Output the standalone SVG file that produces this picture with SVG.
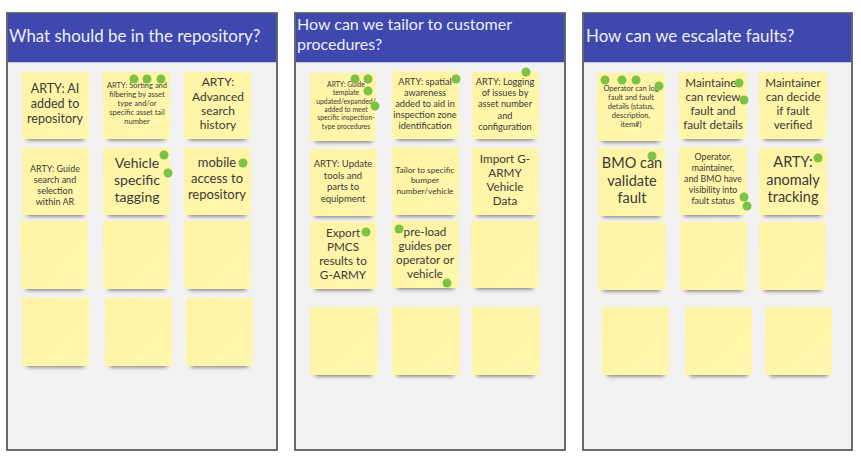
<svg xmlns="http://www.w3.org/2000/svg" width="861" height="457" viewBox="0 0 861 457">
<style>
.frame{fill:#f2f2f2;stroke:#3c3c3c;stroke-width:1.5}
.hdr{fill:#3f49ad}
.htxt{font-family:Lato,"Open Sans",sans-serif;font-size:16.9px;fill:#eceef8}
.h2{font-size:16px}
.note{fill:url(#ng)}
.sh{fill:#000;opacity:.55;filter:url(#blur)}
.t{font-family:Lato,"Open Sans",sans-serif;fill:#3a3a3a;text-anchor:middle}
.dot{fill:#7dc243}
</style>
<defs>
<linearGradient id="ng" x1="0" y1="0" x2="1" y2="1">
<stop offset="0" stop-color="#fff3a4"/>
<stop offset="1" stop-color="#fff7ad"/>
</linearGradient>
<filter id="blur" x="-20%" y="-100%" width="140%" height="300%"><feGaussianBlur stdDeviation="2"/></filter>
</defs>
<rect width="861" height="457" fill="#fff"/>

<g id="col1">
<rect class="frame" x="7" y="13" width="270" height="437"/>
<rect class="hdr" x="7.75" y="13.75" width="268.5" height="48.5"/>
<text class="htxt" x="9" y="42">What should be in the repository?</text>
</g>
<g id="col2">
<rect class="frame" x="295" y="13" width="270" height="437"/>
<rect class="hdr" x="295.75" y="13.75" width="268.5" height="48.5"/>
<text class="htxt h2"><tspan x="297" y="30">How can we tailor to customer</tspan><tspan x="297" y="49.5">procedures?</tspan></text>
</g>
<g id="col3">
<rect class="frame" x="583" y="13" width="269" height="437"/>
<rect class="hdr" x="583.75" y="13.75" width="267.5" height="48.5"/>
<text class="htxt" x="586" y="42">How can we escalate faults?</text>
</g>

<!-- Column 1 notes -->
<g id="n1-1"><rect class="sh" x="27" y="134" width="57" height="6"/><rect class="note" x="22" y="72" width="67" height="67"/>
<text class="t" font-size="12.5"><tspan x="55" y="93">ARTY: AI</tspan><tspan x="55" y="108">added to</tspan><tspan x="55" y="123">repository</tspan></text></g>
<g id="n1-2"><rect class="sh" x="108" y="134" width="57" height="6"/><rect class="note" x="103" y="72" width="67" height="67"/>
<text class="t" font-size="7.5"><tspan x="137" y="88">ARTY: Sorting and</tspan><tspan x="137" y="97">filbering by asset</tspan><tspan x="137" y="106">type and/or</tspan><tspan x="137" y="115">specific asset tail</tspan><tspan x="137" y="124">number</tspan></text>
<circle class="dot" cx="134" cy="79" r="4.5"/><circle class="dot" cx="147" cy="79" r="4.5"/><circle class="dot" cx="161" cy="79" r="4.5"/></g>
<g id="n1-3"><rect class="sh" x="189" y="134" width="57" height="6"/><rect class="note" x="184" y="72" width="67" height="67"/>
<text class="t" font-size="12"><tspan x="218" y="86">ARTY:</tspan><tspan x="218" y="101">Advanced</tspan><tspan x="218" y="115">search</tspan><tspan x="218" y="129">history</tspan></text></g>

<g id="n1-4"><rect class="sh" x="27" y="210" width="57" height="6"/><rect class="note" x="22" y="148" width="67" height="67"/>
<text class="t" font-size="9"><tspan x="55" y="172">ARTY: Guide</tspan><tspan x="55" y="183">search and</tspan><tspan x="55" y="194">selection</tspan><tspan x="55" y="205">within AR</tspan></text></g>
<g id="n1-5"><rect class="sh" x="108" y="210" width="57" height="6"/><rect class="note" x="103" y="148" width="67" height="67"/>
<text class="t" font-size="14"><tspan x="137" y="168">Vehicle</tspan><tspan x="137" y="185">specific</tspan><tspan x="137" y="202">tagging</tspan></text>
<circle class="dot" cx="164" cy="155" r="4.5"/><circle class="dot" cx="168" cy="173" r="4.5"/></g>
<g id="n1-6"><rect class="sh" x="189" y="210" width="57" height="6"/><rect class="note" x="184" y="148" width="67" height="67"/>
<text class="t" font-size="13"><tspan x="217" y="167">mobile</tspan><tspan x="217" y="183">access to</tspan><tspan x="217" y="199">repository</tspan></text>
<circle class="dot" cx="243" cy="163" r="4.5"/></g>

<g id="n1-7"><rect class="sh" x="26" y="284" width="57" height="6"/><rect class="note" x="21" y="221" width="67" height="68"/></g>
<g id="n1-8"><rect class="sh" x="108" y="284" width="57" height="6"/><rect class="note" x="103" y="221" width="67" height="68"/></g>
<g id="n1-9"><rect class="sh" x="189" y="284" width="57" height="6"/><rect class="note" x="184" y="221" width="67" height="68"/></g>

<g id="n1-10"><rect class="sh" x="27" y="361" width="57" height="6"/><rect class="note" x="22" y="298" width="67" height="68"/></g>
<g id="n1-11"><rect class="sh" x="110" y="361" width="57" height="6"/><rect class="note" x="105" y="298" width="67" height="68"/></g>
<g id="n1-12"><rect class="sh" x="191" y="361" width="57" height="6"/><rect class="note" x="186" y="298" width="67" height="68"/></g>

<!-- Column 2 notes -->
<g id="n2-1"><rect class="sh" x="315" y="136" width="57" height="6"/><rect class="note" x="310" y="73" width="66" height="68"/>
<text class="t" font-size="6.8"><tspan x="346" y="87">ARTY: Guide</tspan><tspan x="346" y="95.3">template</tspan><tspan x="346" y="103.6">updated/expanded/</tspan><tspan x="346" y="111.9">added to meet</tspan><tspan x="346" y="120.2">specific inspection-</tspan><tspan x="346" y="128.5">type procedures</tspan></text>
<circle class="dot" cx="355" cy="79" r="4.5"/><circle class="dot" cx="368" cy="79" r="4.5"/><circle class="dot" cx="368" cy="91" r="4.5"/><circle class="dot" cx="375" cy="106" r="4.5"/></g>
<g id="n2-2"><rect class="sh" x="397" y="134" width="57" height="6"/><rect class="note" x="392" y="71" width="67" height="68"/>
<text class="t" font-size="9.2"><tspan x="425" y="85">ARTY: spatial</tspan><tspan x="425" y="96">awareness</tspan><tspan x="425" y="107">added to aid in</tspan><tspan x="425" y="118">inspection zone</tspan><tspan x="425" y="129">identification</tspan></text>
<circle class="dot" cx="456" cy="79" r="4.5"/></g>
<g id="n2-3"><rect class="sh" x="477" y="134" width="57" height="6"/><rect class="note" x="472" y="72" width="67" height="67"/>
<text class="t" font-size="9.2"><tspan x="505" y="85">ARTY: Logging</tspan><tspan x="505" y="96">of issues by</tspan><tspan x="505" y="107">asset number</tspan><tspan x="505" y="118.5">and</tspan><tspan x="505" y="130">configuration</tspan></text>
<circle class="dot" cx="526" cy="72" r="4.5"/></g>

<g id="n2-4"><rect class="sh" x="315" y="211" width="57" height="6"/><rect class="note" x="310" y="149" width="67" height="67"/>
<text class="t" font-size="9.5"><tspan x="343" y="167">ARTY: Update</tspan><tspan x="343" y="178.5">tools and</tspan><tspan x="343" y="190">parts to</tspan><tspan x="343" y="202">equipment</tspan></text></g>
<g id="n2-5"><rect class="sh" x="397" y="210" width="57" height="6"/><rect class="note" x="392" y="147" width="67" height="68"/>
<text class="t" font-size="8.3"><tspan x="425" y="172.5">Tailor to specific</tspan><tspan x="425" y="183">bumper</tspan><tspan x="425" y="193.5">number/vehicle</tspan></text></g>
<g id="n2-6"><rect class="sh" x="477" y="210" width="57" height="6"/><rect class="note" x="472" y="148" width="67" height="67"/>
<text class="t" font-size="11.7"><tspan x="505" y="163">Import G-</tspan><tspan x="505" y="177">ARMY</tspan><tspan x="505" y="191">Vehicle</tspan><tspan x="505" y="205">Data</tspan></text></g>

<g id="n2-7"><rect class="sh" x="315" y="284" width="57" height="6"/><rect class="note" x="310" y="222" width="67" height="67"/>
<text class="t" font-size="11.7"><tspan x="343" y="237">Export</tspan><tspan x="343" y="251">PMCS</tspan><tspan x="343" y="265">results to</tspan><tspan x="343" y="279">G-ARMY</tspan></text>
<circle class="dot" cx="366" cy="232" r="4.5"/></g>
<g id="n2-8"><rect class="sh" x="397" y="283" width="57" height="6"/><rect class="note" x="392" y="221" width="67" height="67"/>
<text class="t" font-size="11.7"><tspan x="425" y="236">pre-load</tspan><tspan x="425" y="250">guides per</tspan><tspan x="425" y="264">operator or</tspan><tspan x="425" y="278">vehicle</tspan></text>
<circle class="dot" cx="399" cy="229" r="4.5"/><circle class="dot" cx="447" cy="283" r="4.5"/></g>
<g id="n2-9"><rect class="sh" x="476" y="283" width="57" height="6"/><rect class="note" x="471" y="221" width="68" height="67"/></g>

<g id="n2-10"><rect class="sh" x="315" y="370" width="57" height="6"/><rect class="note" x="310" y="307" width="68" height="68"/></g>
<g id="n2-11"><rect class="sh" x="397" y="370" width="57" height="6"/><rect class="note" x="392" y="307" width="68" height="68"/></g>
<g id="n2-12"><rect class="sh" x="477" y="370" width="57" height="6"/><rect class="note" x="472" y="307" width="68" height="68"/></g>

<!-- Column 3 notes -->
<g id="n3-1"><rect class="sh" x="602" y="136" width="57" height="6"/><rect class="note" x="597" y="73" width="68" height="68"/>
<text class="t" font-size="7.5"><tspan x="631" y="90.5">Operator can log</tspan><tspan x="631" y="99.5">fault and fault</tspan><tspan x="631" y="108.5">details (status,</tspan><tspan x="631" y="117.5">description,</tspan><tspan x="631" y="126.5">item#)</tspan></text>
<circle class="dot" cx="605" cy="80" r="4.5"/><circle class="dot" cx="622" cy="80" r="4.5"/><circle class="dot" cx="636" cy="80" r="4.5"/><circle class="dot" cx="659" cy="86" r="4.5"/></g>
<g id="n3-2"><rect class="sh" x="684" y="134" width="57" height="6"/><rect class="note" x="679" y="72" width="68" height="67"/>
<text class="t" font-size="11.7"><tspan x="713" y="87">Maintainer</tspan><tspan x="713" y="101">can review</tspan><tspan x="713" y="115">fault and</tspan><tspan x="713" y="129">fault details</tspan></text>
<circle class="dot" cx="739" cy="83" r="4.5"/><circle class="dot" cx="744" cy="100" r="4.5"/></g>
<g id="n3-3"><rect class="sh" x="764" y="134" width="57" height="6"/><rect class="note" x="759" y="72" width="68" height="67"/>
<text class="t" font-size="11.7"><tspan x="793" y="87">Maintainer</tspan><tspan x="793" y="101">can decide</tspan><tspan x="793" y="115">if fault</tspan><tspan x="793" y="129">verified</tspan></text></g>

<g id="n3-4"><rect class="sh" x="603" y="211" width="57" height="6"/><rect class="note" x="598" y="148" width="67" height="68"/>
<text class="t" font-size="14.5"><tspan x="632" y="168">BMO can</tspan><tspan x="632" y="186">validate</tspan><tspan x="632" y="203">fault</tspan></text>
<circle class="dot" cx="652" cy="156" r="4.5"/></g>
<g id="n3-5"><rect class="sh" x="684" y="210" width="57" height="6"/><rect class="note" x="679" y="147" width="68" height="68"/>
<text class="t" font-size="8.8"><tspan x="713" y="160">Operator,</tspan><tspan x="713" y="171">maintainer,</tspan><tspan x="713" y="182">and BMO have</tspan><tspan x="713" y="193">visibility into</tspan><tspan x="713" y="204">fault status</tspan></text>
<circle class="dot" cx="744" cy="197" r="4.5"/><circle class="dot" cx="747" cy="206" r="4.5"/></g>
<g id="n3-6"><rect class="sh" x="764" y="210" width="57" height="6"/><rect class="note" x="759" y="148" width="68" height="67"/>
<text class="t" font-size="14.5"><tspan x="793" y="167">ARTY:</tspan><tspan x="793" y="185">anomaly</tspan><tspan x="793" y="202">tracking</tspan></text>
<circle class="dot" cx="818" cy="158" r="4.5"/></g>

<g id="n3-7"><rect class="sh" x="603" y="285" width="57" height="6"/><rect class="note" x="598" y="222" width="68" height="68"/></g>
<g id="n3-8"><rect class="sh" x="685" y="285" width="57" height="6"/><rect class="note" x="680" y="222" width="67" height="68"/></g>
<g id="n3-9"><rect class="sh" x="764" y="285" width="57" height="6"/><rect class="note" x="759" y="222" width="67" height="68"/></g>

<g id="n3-10"><rect class="sh" x="607" y="370" width="57" height="6"/><rect class="note" x="602" y="307" width="67" height="68"/></g>
<g id="n3-11"><rect class="sh" x="690" y="370" width="57" height="6"/><rect class="note" x="685" y="307" width="67" height="68"/></g>
<g id="n3-12"><rect class="sh" x="770" y="370" width="57" height="6"/><rect class="note" x="765" y="307" width="67" height="68"/></g>

<g id="connectors"/>
</svg>
